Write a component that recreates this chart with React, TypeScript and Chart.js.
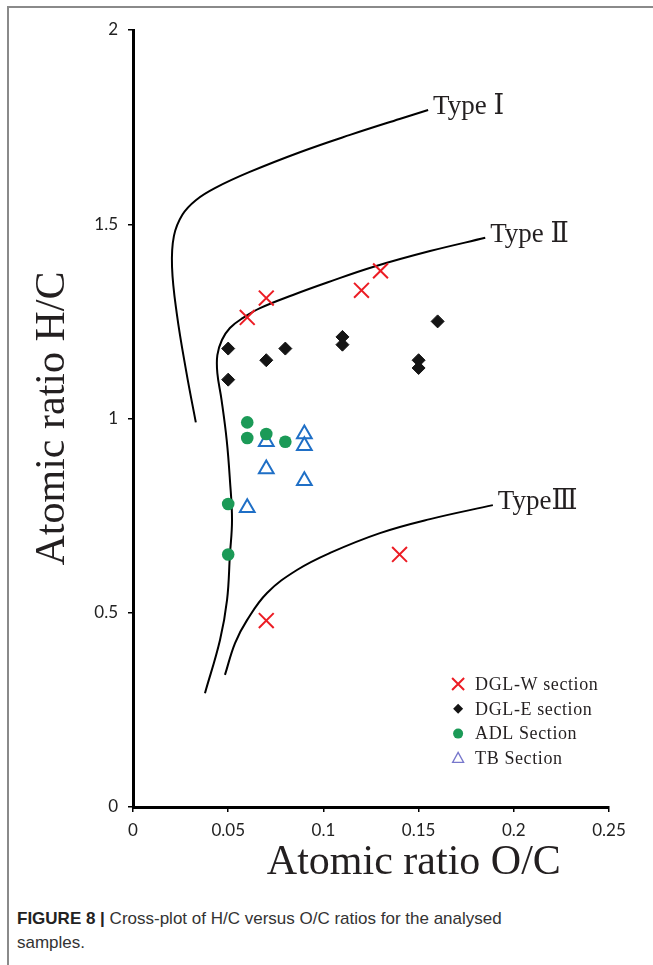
import React, { useEffect, useRef } from 'react';
import { Chart, registerables } from 'chart.js';

Chart.register(...registerables);

// ---- tick labels ----
const xTickValues = [0, 0.05, 0.1, 0.15, 0.2, 0.25];
const xTickLabels = ['0', '0.05', '0.1', '0.15', '0.2', '0.25'];
const yTickValues = [0, 0.5, 1, 1.5, 2];
const yTickLabels = ['0', '0.5', '1', '1.5', '2'];

// ---- sample series (O/C, H/C) ----
const dglW = [
  { x: 0.06, y: 1.26 }, { x: 0.07, y: 1.31 }, { x: 0.12, y: 1.33 },
  { x: 0.13, y: 1.38 }, { x: 0.14, y: 0.65 }, { x: 0.07, y: 0.48 },
];
const dglE = [
  { x: 0.05, y: 1.18 }, { x: 0.05, y: 1.10 }, { x: 0.07, y: 1.15 },
  { x: 0.08, y: 1.18 }, { x: 0.11, y: 1.21 }, { x: 0.11, y: 1.19 },
  { x: 0.15, y: 1.15 }, { x: 0.15, y: 1.13 }, { x: 0.16, y: 1.25 },
];
const adl = [
  { x: 0.06, y: 0.99 }, { x: 0.06, y: 0.95 }, { x: 0.07, y: 0.96 },
  { x: 0.08, y: 0.94 }, { x: 0.05, y: 0.78 }, { x: 0.05, y: 0.65 },
];
const tb = [
  { x: 0.09, y: 0.96 }, { x: 0.09, y: 0.93 }, { x: 0.07, y: 0.94 },
  { x: 0.07, y: 0.87 }, { x: 0.09, y: 0.84 }, { x: 0.06, y: 0.77 },
];

// ---- kerogen type boundary curves ----
const typeI = [
  { x: 0.033, y: 0.99 }, { x: 0.028, y: 1.12 }, { x: 0.023, y: 1.27 },
  { x: 0.0205, y: 1.39 }, { x: 0.0215, y: 1.47 }, { x: 0.026, y: 1.525 },
  { x: 0.033, y: 1.562 }, { x: 0.043, y: 1.593 }, { x: 0.061, y: 1.634 },
  { x: 0.088, y: 1.686 }, { x: 0.114, y: 1.73 }, { x: 0.14, y: 1.771 },
  { x: 0.155, y: 1.794 },
];
const typeII = [
  { x: 0.0378, y: 0.293 }, { x: 0.0457, y: 0.43 }, { x: 0.0494, y: 0.533 },
  { x: 0.0509, y: 0.649 }, { x: 0.052, y: 0.739 }, { x: 0.0509, y: 0.842 },
  { x: 0.0492, y: 0.945 }, { x: 0.0465, y: 1.048 }, { x: 0.0443, y: 1.117 },
  { x: 0.0443, y: 1.163 }, { x: 0.0467, y: 1.202 }, { x: 0.0509, y: 1.233 },
  { x: 0.0578, y: 1.259 }, { x: 0.0667, y: 1.284 }, { x: 0.084, y: 1.318 },
  { x: 0.102, y: 1.35 }, { x: 0.126, y: 1.39 }, { x: 0.156, y: 1.431 },
  { x: 0.185, y: 1.465 },
];
const typeIII = [
  { x: 0.0483, y: 0.34 }, { x: 0.0536, y: 0.422 }, { x: 0.0599, y: 0.481 },
  { x: 0.0704, y: 0.551 }, { x: 0.0861, y: 0.61 }, { x: 0.1035, y: 0.654 },
  { x: 0.1297, y: 0.705 }, { x: 0.156, y: 0.741 }, { x: 0.189, y: 0.777 },
];

const curveNames = ['Type Ⅰ', 'Type Ⅱ', 'TypeⅢ'];
const legendNames = ['DGL-W section', 'DGL-E section', 'ADL Section', 'TB Section'];
const xTitle = 'Atomic ratio O/C';
const yTitle = 'Atomic ratio H/C';

const RED = '#ec1c24';
const BLACK = '#141414';
const GREEN = '#1b9a57';
const BLUE = '#1f6fc6';
const LEGEND_TRI = '#7777cc';
const SERIF = '"Liberation Serif", "Times New Roman", "DejaVu Serif", serif';
const TEXT = '#231f20';

const overlayPlugin = {
  id: 'overlay',
  afterDatasetsDraw(chart: any) {
    const { ctx, chartArea } = chart;
    const w = chartArea.right - chartArea.left;
    ctx.save();
    // curve labels
    ctx.font = '27px ' + SERIF + ', "Noto Sans CJK SC"';
    ctx.fillStyle = TEXT;
    ctx.textBaseline = 'middle';
    ctx.textAlign = 'left';
    curveNames.forEach((name, i) => {
      const meta = chart.getDatasetMeta(4 + i);
      const last = meta.data[meta.data.length - 1];
      ctx.fillText(name, last.x + 5, last.y - 3);
    });
    // x axis title
    ctx.font = '42px ' + SERIF;
    ctx.textAlign = 'center';
    ctx.fillText(xTitle, chartArea.left + 0.59 * w, chartArea.bottom + 56);

    // legend
    const sx = chartArea.left + 0.683 * w;
    const y0 = chartArea.bottom - 123;
    const step = 24.8;
    ctx.font = '18px ' + SERIF;
    (ctx as any).letterSpacing = '0.6px';
    ctx.textAlign = 'left';
    legendNames.forEach((name, i) => {
      const y = y0 + i * step;
      ctx.save();
      if (i === 0) {
        ctx.strokeStyle = RED;
        ctx.lineWidth = 2;
        ctx.beginPath();
        ctx.moveTo(sx - 6, y - 6); ctx.lineTo(sx + 6, y + 6);
        ctx.moveTo(sx + 6, y - 6); ctx.lineTo(sx - 6, y + 6);
        ctx.stroke();
      } else if (i === 1) {
        ctx.fillStyle = BLACK;
        ctx.beginPath();
        ctx.moveTo(sx - 5, y); ctx.lineTo(sx, y - 5); ctx.lineTo(sx + 5, y); ctx.lineTo(sx, y + 5);
        ctx.closePath();
        ctx.fill();
      } else if (i === 2) {
        ctx.fillStyle = GREEN;
        ctx.beginPath();
        ctx.arc(sx, y, 5, 0, Math.PI * 2);
        ctx.fill();
      } else {
        ctx.strokeStyle = LEGEND_TRI;
        ctx.lineWidth = 1.3;
        ctx.beginPath();
        ctx.moveTo(sx, y - 6); ctx.lineTo(sx + 5.5, y + 4); ctx.lineTo(sx - 5.5, y + 4);
        ctx.closePath();
        ctx.stroke();
      }
      ctx.restore();
      ctx.fillStyle = TEXT;
      ctx.fillText(name, sx + 17, y + 1);
    });
    ctx.restore();
  },
};

const curveStyle = {
  showLine: true,
  pointRadius: 0,
  borderColor: '#000',
  borderWidth: 2,
  tension: 0.4,
  fill: false,
};

export default function App() {
  const ref = useRef<HTMLCanvasElement | null>(null);

  useEffect(() => {
    if (!ref.current) return;
    const chart = new Chart(ref.current, {
      type: 'scatter',
      data: {
        datasets: [
          { label: legendNames[0], data: dglW, pointStyle: 'crossRot', pointRadius: 10.5, borderColor: RED, backgroundColor: RED, borderWidth: 2 },
          { label: legendNames[1], data: dglE, pointStyle: 'rectRot', pointRadius: 6.5, borderColor: BLACK, backgroundColor: BLACK, borderWidth: 1 },
          { label: legendNames[2], data: adl, pointStyle: 'circle', pointRadius: 6.3, borderColor: GREEN, backgroundColor: GREEN, borderWidth: 0 },
          { label: legendNames[3], data: tb, pointStyle: 'triangle', pointRadius: 8.5, borderColor: BLUE, backgroundColor: 'rgba(255,255,255,0)', borderWidth: 2 },
          { label: curveNames[0], data: typeI, ...curveStyle },
          { label: curveNames[1], data: typeII, ...curveStyle },
          { label: curveNames[2], data: typeIII, ...curveStyle },
        ] as any,
      },
      options: {
        responsive: false,
        animation: false,
        devicePixelRatio: 1,
        layout: { padding: { left: 0, top: 22, right: 44, bottom: 0 } },
        plugins: {
          legend: { display: false },
          tooltip: { enabled: false },
        },
        scales: {
          x: {
            type: 'linear',
            min: 0,
            max: 0.25,
            afterBuildTicks: (s: any) => { s.ticks = xTickValues.map((v) => ({ value: v })); },
            afterFit: (s: any) => { s.height = 83; },
            border: { display: true, color: '#000', width: 3 },
            grid: { display: true, drawOnChartArea: false, drawTicks: true, tickLength: 5, color: '#000', lineWidth: 1.5 },
            ticks: {
              padding: 8,
              color: '#222',
              font: { family: 'Lato, "Open Sans", sans-serif', size: 17 },
              maxRotation: 0,
              callback: (_v: any, i: number) => xTickLabels[i],
            },
            title: { display: false },
          },
          y: {
            type: 'linear',
            min: 0,
            max: 2,
            afterBuildTicks: (s: any) => { s.ticks = yTickValues.map((v) => ({ value: v })); },
            afterFit: (s: any) => { s.width = 124; },
            border: { display: true, color: '#000', width: 3 },
            grid: { display: true, drawOnChartArea: false, drawTicks: true, tickLength: 5, color: '#000', lineWidth: 1.5 },
            ticks: {
              padding: 10,
              color: '#222',
              font: { family: 'Lato, "Open Sans", sans-serif', size: 17 },
              callback: (_v: any, i: number) => yTickLabels[i],
            },
            title: {
              display: true,
              text: yTitle,
              color: TEXT,
              font: { family: SERIF, size: 42, weight: 'normal', lineHeight: 1.2 },
              padding: { top: 19, bottom: 0 },
            },
          },
        },
      } as any,
      plugins: [overlayPlugin],
    });
    return () => chart.destroy();
  }, []);

  return (
    <div
      style={{
        position: 'absolute',
        left: 7,
        top: 6,
        width: 646,
        height: 959,
        boxSizing: 'border-box',
        borderTop: '2px solid #8a8a8a',
        borderLeft: '2px solid #8a8a8a',
        background: '#fff',
        overflow: 'hidden',
      }}
    >
      <div style={{ position: 'absolute', left: 0, top: 0, width: 644, height: 882 }}>
        <canvas ref={ref} width={644} height={882} style={{ width: 644, height: 882, display: 'block' }} />
      </div>
      <div
        style={{
          position: 'absolute',
          left: 8,
          top: 899,
          width: 620,
          fontFamily: '"Liberation Sans", Arial, sans-serif',
          fontSize: 17,
          lineHeight: '24px',
          color: '#333',
        }}
      >
        <span style={{ fontWeight: 'bold', color: '#222' }}>FIGURE 8 |</span> Cross-plot of H/C versus O/C ratios for the analysed
        <br />
        samples.
      </div>
    </div>
  );
}
